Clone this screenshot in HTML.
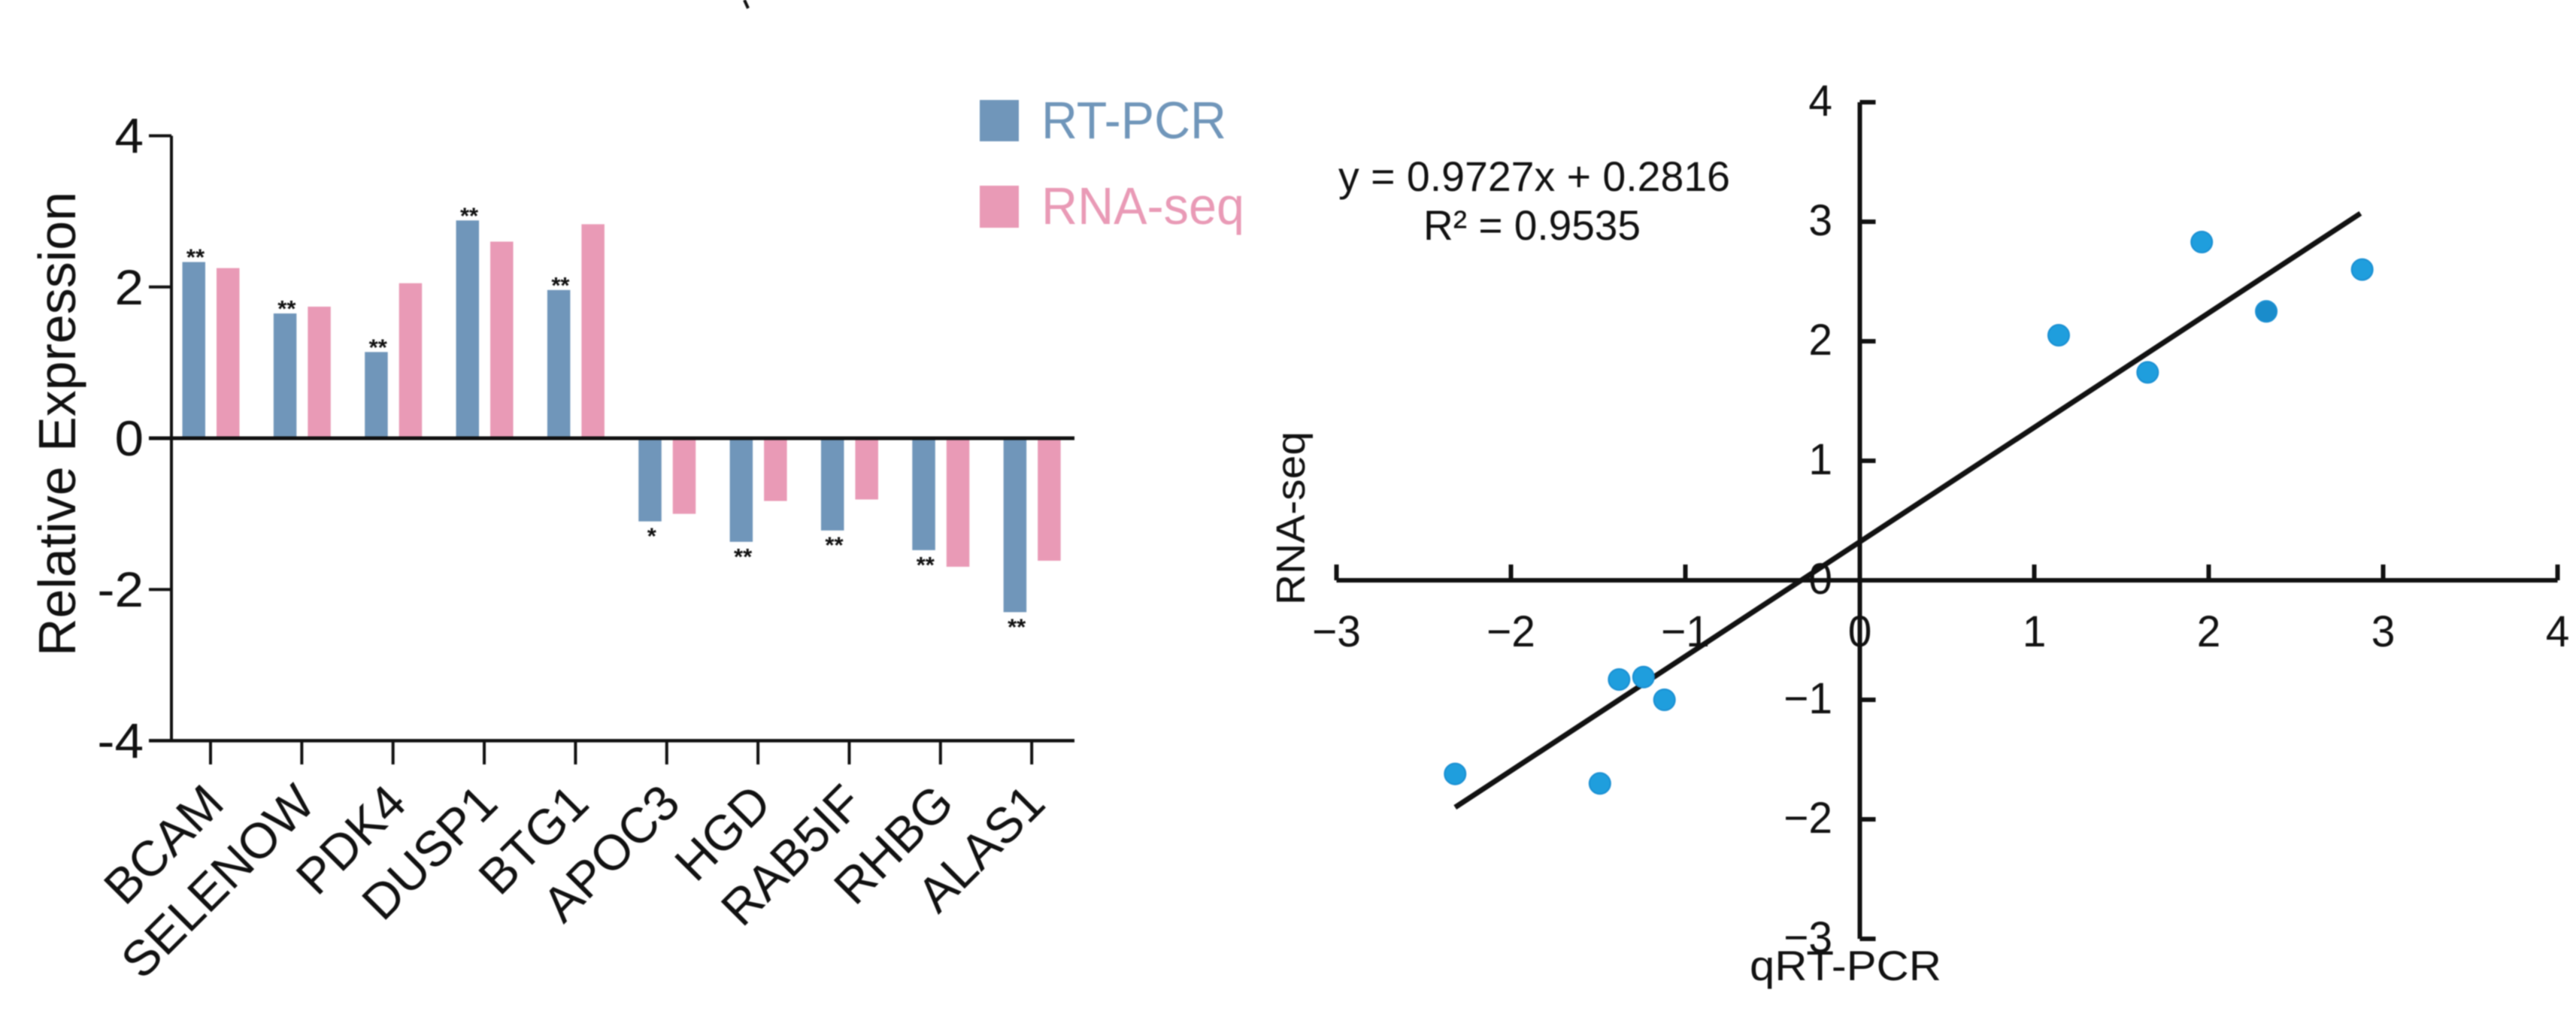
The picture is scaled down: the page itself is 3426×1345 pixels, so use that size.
<!DOCTYPE html>
<html lang="en">
<head>
<meta charset="utf-8">
<title>RT-PCR and RNA-seq validation</title>
<style>
html,body{margin:0;padding:0;background:#fff;}
body{width:3426px;height:1345px;overflow:hidden;}
svg{display:block;}
text{font-family:"Liberation Sans",sans-serif;fill:#111;}
</style>
</head>
<body>
<svg id="figure" xmlns="http://www.w3.org/2000/svg" width="3426" height="1345" viewBox="0 0 3426 1345">
  <g style="filter:blur(0.8px)">
  <path d="M990 0 L995 11" stroke="#111" stroke-width="4" fill="none"/>
  <g id="bar-chart">
    <text transform="translate(100,873) rotate(-90)" font-size="70" textLength="618" lengthAdjust="spacingAndGlyphs">Relative Expression</text>
    <rect x="1303" y="133" width="52" height="55" fill="#7096BA"/>
    <text x="1385" y="184" font-size="70" textLength="246" lengthAdjust="spacingAndGlyphs" style="fill:#7096BA">RT-PCR</text>
    <rect x="1303" y="247" width="52" height="56" fill="#E99AB6"/>
    <text x="1385" y="298" font-size="70" textLength="270" lengthAdjust="spacingAndGlyphs" style="fill:#E99AB6">RNA-seq</text>
  </g>
  <g id="scatter-chart">
    <text transform="translate(1735,805) rotate(-90)" font-size="54" textLength="231" lengthAdjust="spacingAndGlyphs">RNA-seq</text>
    <text x="2327" y="1304" font-size="56" textLength="255" lengthAdjust="spacingAndGlyphs">qRT-PCR</text>
    <text x="1780" y="254" font-size="56" textLength="521" lengthAdjust="spacingAndGlyphs">y = 0.9727x + 0.2816</text>
    <text x="1893" y="319" font-size="56" textLength="289" lengthAdjust="spacingAndGlyphs">R² = 0.9535</text>
  </g>
  </g>
</svg>
<script>
// Bar chart data
const genes = ['BCAM','SELENOW','PDK4','DUSP1','BTG1','APOC3','HGD','RAB5IF','RHBG','ALAS1'];
const rtPcr = [2.33,1.65,1.14,2.88,1.96,-1.10,-1.37,-1.22,-1.48,-2.30];
const rnaSeq = [2.25,1.74,2.05,2.60,2.83,-1.00,-0.83,-0.81,-1.70,-1.62];
const significance = ['**','**','**','**','**','*','**','**','**','**'];
const barTicks = [4,2,0,-2,-4];
const barTickLabels = ['4','2','0','-2','-4'];

// Scatter chart data
const scatterX = [2.33,1.65,1.14,2.88,1.96,-1.12,-1.38,-1.24,-1.49,-2.32];
const scatterY = [2.25,1.74,2.05,2.60,2.83,-1.00,-0.83,-0.81,-1.70,-1.62];
const xTicks = [-3,-2,-1,0,1,2,3,4];
const xTickLabels = ['\u22123','\u22122','\u22121','0','1','2','3','4'];
const yTicks = [4,3,2,1,0,-1,-2,-3];
const yTickLabels = ['4','3','2','1','0','\u22121','\u22122','\u22123'];
const fitX = [-2.32,2.87];
const fitY = [-1.90,3.07];

const NS = 'http://www.w3.org/2000/svg';
function make(tag, attrs, parent) {
  const el = document.createElementNS(NS, tag);
  for (const k in attrs) el.setAttribute(k, attrs[k]);
  parent.appendChild(el);
  return el;
}

const barG = document.getElementById('bar-chart');
const barY = v => 583 - v * 100.6;
const barX = i => 280 + i * 121.35;
const BAR_W = 30.5;

// bars
genes.forEach((g, i) => {
  const a = rtPcr[i];
  const b = rnaSeq[i];
  const r1 = make('rect', {x: barX(i) - 37.5, y: Math.min(barY(a), barY(0)), width: BAR_W, height: Math.abs(barY(a) - barY(0)), fill: '#7096BA'}, barG);
  
  
  const r2 = make('rect', {x: barX(i) + 8, y: Math.min(barY(b), barY(0)), width: BAR_W, height: Math.abs(barY(b) - barY(0)), fill: '#E99AB6'}, barG);
  
  
  const sy = a >= 0 ? barY(a) + 4 : barY(a) + 30;
  const s = make('text', {x: barX(i) - 20, y: sy, 'font-size': 31, 'font-weight': 'bold', 'text-anchor': 'middle'}, barG);
  s.textContent = significance[i];
  
  
});

// bar axes
const by = make('line', {x1: 228, x2: 228, y1: barY(4), y2: barY(-4), stroke: '#111', 'stroke-width': 4}, barG);


const bz = make('line', {x1: 198, x2: 1429, y1: barY(0), y2: barY(0), stroke: '#111', 'stroke-width': 5}, barG);


const bx = make('line', {x1: 198, x2: 1429, y1: barY(-4), y2: barY(-4), stroke: '#111', 'stroke-width': 4.5}, barG);



barTicks.forEach((v, i) => {
  const t = make('line', {x1: 198, x2: 228, y1: barY(v), y2: barY(v), stroke: '#111', 'stroke-width': 4}, barG);
  
  
  const l = make('text', {transform: 'translate(191,' + (barY(v) + 23) + ') scale(1.05,1)', 'font-size': 66, 'text-anchor': 'end'}, barG);
  l.textContent = barTickLabels[i];
  
  
});

genes.forEach((g, i) => {
  const t = make('line', {x1: barX(i), x2: barX(i), y1: barY(-4), y2: 1017, stroke: '#111', 'stroke-width': 4}, barG);
  
  
  const l = make('text', {transform: 'translate(' + (barX(i) + 21) + ',1072) rotate(-45)', 'font-size': 66, 'text-anchor': 'end'}, barG);
  l.textContent = g;
  
  
});

// scatter
const scG = document.getElementById('scatter-chart');
const sx = v => 2473.5 + v * 232;
const sy = v => 772 - v * 159;

const ax = make('line', {x1: sx(-3), x2: sx(4), y1: sy(0), y2: sy(0), stroke: '#111', 'stroke-width': 6}, scG);


const ay = make('line', {x1: sx(0), x2: sx(0), y1: sy(4), y2: sy(-3), stroke: '#111', 'stroke-width': 6}, scG);



xTicks.forEach((v, i) => {
  const t = make('line', {x1: sx(v), x2: sx(v), y1: sy(0) - 21, y2: sy(0), stroke: '#111', 'stroke-width': 6}, scG);
  
  
  const l = make('text', {transform: 'translate(' + sx(v) + ',860) scale(0.98,1)', 'font-size': 58, 'text-anchor': 'middle'}, scG);
  l.textContent = xTickLabels[i];
  
  
});
yTicks.forEach((v, i) => {
  const t = make('line', {x1: sx(0), x2: sx(0) + 21, y1: sy(v), y2: sy(v), stroke: '#111', 'stroke-width': 6}, scG);
  
  
  const l = make('text', {transform: 'translate(2437,' + (sy(v) + 18) + ') scale(0.98,1)', 'font-size': 58, 'text-anchor': 'end'}, scG);
  l.textContent = yTickLabels[i];
  
  
});

const fit = make('line', {
  x1: sx(fitX[0]), y1: sy(fitY[0]),
  x2: sx(fitX[1]), y2: sy(fitY[1]),
  stroke: '#111', 'stroke-width': 7
}, scG);



scatterX.forEach((x, i) => {
  const c = make('circle', {cx: sx(x), cy: sy(scatterY[i]), r: 14, fill: i === 0 ? '#1A8CCB' : '#1F9EDD', stroke: '#1A8FD2', 'stroke-width': 2}, scG);
  
  
});
</script>
</body>
</html>
